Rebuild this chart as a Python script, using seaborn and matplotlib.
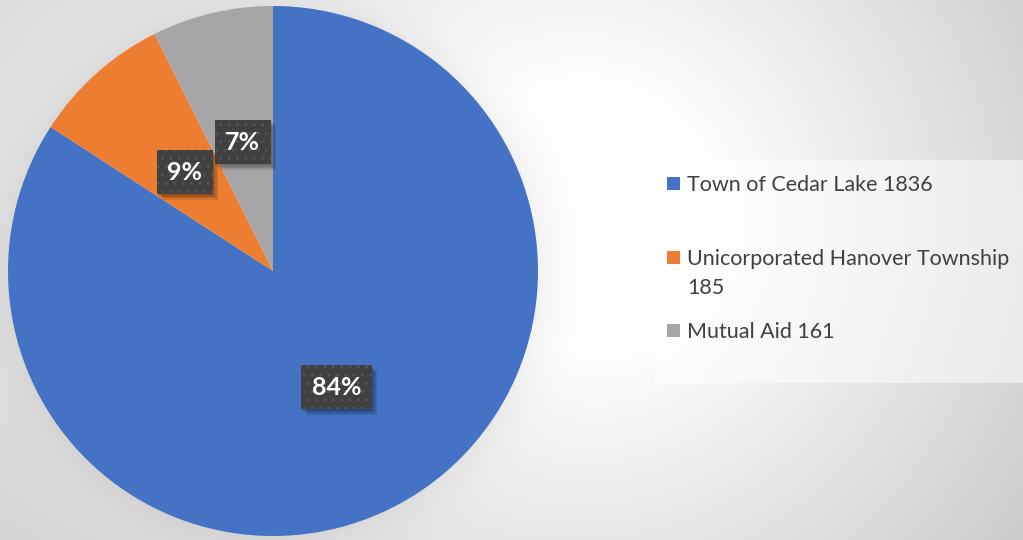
import numpy as np
import matplotlib
matplotlib.use("Agg")
import matplotlib.pyplot as plt
import matplotlib.patheffects as pe
from matplotlib.patches import Rectangle
import seaborn as sns

# Responding agencies and their call counts
agencies = ["Town of Cedar Lake", "Unicorporated Hanover Township", "Mutual Aid"]
calls = [1836, 185, 161]
pct_labels = ["84%", "9%", "7%"]
legend_labels = ["Town of Cedar Lake 1836", "Unicorporated Hanover Township\n185", "Mutual Aid 161"]

sns.set_theme(style="white")
plt.rcParams["font.family"] = ["Lato", "DejaVu Sans"]
plt.rcParams["hatch.linewidth"] = 1.0
colors = sns.color_palette(["#4472C4", "#ED7D31", "#A5A5A5"])

W, H = 1023, 540
fig = plt.figure(figsize=(W / 100, H / 100), dpi=100)


class SoftShadow(pe.AbstractPathEffect):
    """Plain dark offset copy of a patch (no hatch, no edge)."""

    def __init__(self, offset, alpha):
        super().__init__(offset)
        self._a = alpha

    def draw_path(self, renderer, gc, tpath, affine, rgbFace):
        gc0 = renderer.new_gc()
        gc0.copy_properties(gc)
        gc0.set_hatch(None)
        gc0.set_linewidth(0)
        gc0.set_alpha(self._a)
        renderer.draw_path(gc0, tpath, affine + self._offset_transform(renderer), (0, 0, 0))
        gc0.restore()


# Soft radial backdrop with a faint halo around the pie
bg_ax = fig.add_axes([0, 0, 1, 1], zorder=-10)
yy, xx = np.mgrid[0:H, 0:W].astype(float)
dx = xx - 580
dx = np.where(dx < 0, dx * 0.6, dx)
dy = yy - 220
r = np.hypot(dx, dy)
t = np.clip((r - 130) / 520, 0, 1)
val = 1 - 0.25 * t
edge = np.hypot(xx - 273, yy - 271) - 265
halo = np.where(edge > -3, 0.05 * np.exp(-np.clip(edge, 0, None) / 22), 0)
val = np.clip(val - halo, 0, 1)
bg_ax.imshow(np.dstack([val, val, val]), extent=(0, W, H, 0), aspect="auto", interpolation="bilinear")
bg_ax.set_xlim(0, W)
bg_ax.set_ylim(H, 0)
bg_ax.axis("off")

# Pie
cx, cy, rad = 273, 271, 265
ax = fig.add_axes([(cx - rad) / W, (H - cy - rad) / H, 2 * rad / W, 2 * rad / H])
ax.patch.set_alpha(0)
wedges, texts = ax.pie(
    calls, colors=colors, startangle=90, counterclock=False, radius=1,
    labels=pct_labels, labeldistance=0.5,
    wedgeprops=dict(linewidth=0),
    textprops=dict(color="white", fontsize=18, fontweight="bold"),
)
ax.set_xlim(-1, 1)
ax.set_ylim(-1, 1)
ax.set_aspect("equal")

shadow_fx = [SoftShadow((o, -o), 0.1) for o in (1.0, 2.0, 3.0, 4.0)] + [pe.Normal()]
for txt in texts:
    txt.set_ha("center")
    txt.set_va("center")
    txt.set_bbox(dict(boxstyle="square,pad=0.42", fc="#404040", ec="#535353", lw=0, hatch=".."))
    txt.get_bbox_patch().set_path_effects(shadow_fx)

# Legend panel
ov = fig.add_axes([0, 0, 1, 1], zorder=5)
ov.set_xlim(0, W)
ov.set_ylim(H, 0)
ov.axis("off")
ov.add_patch(Rectangle((655, 160), W - 655, 223, fc="white", ec="none", alpha=0.5))
baselines = [190.7, 265, 338.3]
line_step = 29
for lab, col, base in zip(legend_labels, colors, baselines):
    ov.add_patch(Rectangle((667, base - 14), 13, 13, fc=col, ec="none"))
    for i, line in enumerate(lab.split("\n")):
        ov.text(687, base + i * line_step, line, fontsize=15.5, color="#404040",
                va="baseline", ha="left")

fig.savefig("out.png", dpi=100)
